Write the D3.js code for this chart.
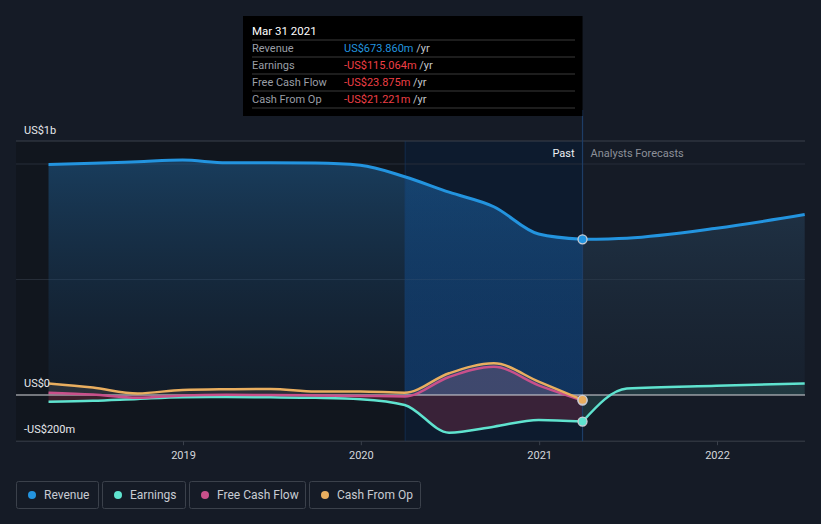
<!DOCTYPE html>
<html><head><meta charset="utf-8">
<script src="https://cdn.jsdelivr.net/npm/d3@7"></script>
<style>
html,body{margin:0;padding:0;background:#151b26;}
svg{display:block;font-family:Roboto,"Noto Sans",sans-serif;}
</style></head><body>
<svg id="c" width="821" height="524"></svg>
<script>
const pastDates = ["2018-03-31","2018-06-30","2018-09-30","2018-12-31","2019-03-31","2019-06-30","2019-09-30","2019-12-31","2020-03-31","2020-06-30","2020-09-30","2020-12-31","2021-03-31"];
const revenuePast = [998,1003,1010,1017,1005,1005,1004,995,945,878,815,697,673.86];
const earningsPast = [-29,-25,-17,-10,-9,-10,-12,-18,-43,-163,-137,-108,-115.064];
const fcfPast = [10,2,-12,-2,1,0,-2,-4,-6,78,122,42,-23.875];
const cfoPast = [50,32,7,22,25,26,15,15,10,94,137,58,-21.221];
const revForecastDates = ["2021-03-31","2021-06-30","2021-12-31","2022-06-30"];
const revenueForecast = [673.86,679,722,781];
const earnForecastDates = ["2021-03-31","2021-06-30","2021-12-31","2022-06-30"];
const earningsForecast = [-115.064,28,40,50];
const yTicks = [{v:1000,label:"US$1b"},{v:0,label:"US$0"},{v:-200,label:"-US$200m"}];
const yearTicks = ["2019-01-01","2020-01-01","2021-01-01","2022-01-01"];
const seriesNames = ["Revenue","Earnings","Free Cash Flow","Cash From Op"];
const seriesColors = ["#2394df","#5fe3cf","#c9508b","#e9ae5f"];
const tooltipTitle = "Mar 31 2021";
const tooltipValues = ["US$673.860m","-US$115.064m","-US$23.875m","-US$21.221m"];

const P = d3.timeParse("%Y-%m-%d");
const svg = d3.select("#c");
const x = d3.scaleTime().domain([P("2019-01-01"),P("2022-01-01")]).range([183,717]);
const y = d3.scaleLinear().domain([0,1000]).range([395,164]);
const plotL=16, plotR=805, plotT=141, plotB=y(-200);
const nowX = x(P("2021-03-31")), bandX = x(P("2020-03-31"));

const defs = svg.append("defs");
function grad(id, stops){
  const g = defs.append("linearGradient").attr("id",id).attr("x1",0).attr("x2",0).attr("y1",0).attr("y2",1);
  stops.forEach(s=>g.append("stop").attr("offset",s[0]).attr("stop-color",s[1]).attr("stop-opacity",s[2]));
}
grad("revPast",[[0,"#1f5c8f",0.55],[1,"#1a3a5c",0.15]]);
grad("revFc",[[0,"#2a4a66",0.45],[1,"#203347",0.2]]);
grad("revBand",[[0,"#135aa5",0.22],[1,"#1460b8",0.32]]);
defs.append("clipPath").attr("id","bandClip").append("rect").attr("x",bandX).attr("y",plotT).attr("width",nowX-bandX).attr("height",plotB-plotT);

// plot background
svg.append("rect").attr("x",plotL).attr("y",plotT).attr("width",bandX-plotL).attr("height",plotB-plotT).attr("fill","#11161e");
// past band
svg.append("rect").attr("x",bandX).attr("y",plotT).attr("width",nowX-bandX).attr("height",plotB-plotT).attr("fill","#0d1b2e");

// gridlines
[1000,500].forEach(v=>svg.append("line").attr("x1",plotL).attr("x2",plotR).attr("y1",y(v)).attr("y2",y(v)).attr("stroke","#262d38").attr("stroke-width",1));
svg.append("line").attr("x1",plotL).attr("x2",plotR).attr("y1",plotT).attr("y2",plotT).attr("stroke","#3a404b");
svg.append("line").attr("x1",plotL).attr("x2",plotR).attr("y1",plotB).attr("y2",plotB).attr("stroke","#3a404b");

const past = pastDates.map((d,i)=>({d:P(d),rev:revenuePast[i],earn:earningsPast[i],fcf:fcfPast[i],cfo:cfoPast[i]}));
const revF = revForecastDates.map((d,i)=>({d:P(d),v:revenueForecast[i]}));
const earnF = earnForecastDates.map((d,i)=>({d:P(d),v:earningsForecast[i]}));
const curve = d3.curveMonotoneX;

function area(data,key){return d3.area().x(d=>x(d.d)).y0(y(0)).y1(d=>y(d[key])).curve(curve)(data);}
function line(data,key){return d3.line().x(d=>x(d.d)).y(d=>y(d[key])).curve(curve)(data);}

svg.append("path").attr("d",area(past,"rev")).attr("fill","url(#revPast)");
svg.append("path").attr("d",area(past,"rev")).attr("fill","url(#revBand)").attr("clip-path","url(#bandClip)");
svg.append("path").attr("d",area(revF,"v")).attr("fill","url(#revFc)");
svg.append("path").attr("d",area(past,"earn")).attr("fill","#a03450").attr("fill-opacity",0.3);
svg.append("path").attr("d",area(earnF,"v")).attr("fill","#5fe3cf").attr("fill-opacity",0.12);
svg.append("path").attr("d",area(past,"fcf")).attr("fill","#c9508b").attr("fill-opacity",0.15);
svg.append("path").attr("d",area(past,"cfo")).attr("fill","#b9a9a0").attr("fill-opacity",0.14);

svg.append("line").attr("x1",bandX+0.5).attr("x2",bandX+0.5).attr("y1",plotT).attr("y2",plotB).attr("stroke","#1a3a66").attr("stroke-opacity",0.5);
svg.append("line").attr("x1",nowX).attr("x2",nowX).attr("y1",110).attr("y2",plotB).attr("stroke","#1d3d66").attr("stroke-width",1.2);

// zero line
svg.append("line").attr("x1",plotL).attr("x2",plotR).attr("y1",y(0)).attr("y2",y(0)).attr("stroke","#d8d8dc").attr("stroke-width",1.2);

// lines
svg.append("path").attr("d",line(past,"earn")).attr("fill","none").attr("stroke",seriesColors[1]).attr("stroke-width",2.5);
svg.append("path").attr("d",line(earnF,"v")).attr("fill","none").attr("stroke",seriesColors[1]).attr("stroke-width",2.5);
svg.append("path").attr("d",line(past,"fcf")).attr("fill","none").attr("stroke",seriesColors[2]).attr("stroke-width",2.5);
svg.append("path").attr("d",line(past,"cfo")).attr("fill","none").attr("stroke",seriesColors[3]).attr("stroke-width",2.5);
svg.append("path").attr("d",line(past,"rev")).attr("fill","none").attr("stroke",seriesColors[0]).attr("stroke-width",3);
svg.append("path").attr("d",line(revF,"v")).attr("fill","none").attr("stroke",seriesColors[0]).attr("stroke-width",3);

// markers
const last = past[past.length-1];
[["rev",0],["earn",1],["fcf",2],["cfo",3]].forEach(([k,i])=>{
  svg.append("circle").attr("cx",x(last.d)).attr("cy",y(last[k])).attr("r",4.5).attr("fill",seriesColors[i]).attr("stroke","#c8ccd4").attr("stroke-width",1.3);
});

// y labels
yTicks.forEach(t=>{
  const yy = t.v===1000 ? plotT-7 : y(t.v)-8;
  svg.append("text").attr("x",24).attr("y",yy).attr("fill","#e6e8ec").attr("font-size",11).text(t.label);
});
// x labels
const xa = svg.append("g").attr("transform",`translate(0,${plotB})`).call(d3.axisBottom(x).tickValues(yearTicks.map(P)).tickFormat(d3.timeFormat("%Y")).tickSize(4).tickSizeOuter(0));
xa.select(".domain").remove();
xa.selectAll("line").attr("stroke","#3a404b");
xa.selectAll("text").attr("fill","#d4d7dc").attr("font-size",11).attr("font-family","Roboto,sans-serif").attr("dy","0.95em");

// Past / Forecast labels
svg.append("text").attr("x",nowX-8).attr("y",157).attr("text-anchor","end").attr("fill","#eef0f3").attr("font-size",11).text("Past");
svg.append("text").attr("x",nowX+8).attr("y",157).attr("fill","#8c9099").attr("font-size",11).text("Analysts Forecasts");

// tooltip
const tt = svg.append("g");
tt.append("rect").attr("x",243).attr("y",16).attr("width",nowX-243).attr("height",100).attr("fill","#000");
tt.append("text").attr("x",252).attr("y",35).attr("fill","#fff").attr("font-size",11.5).text(tooltipTitle);
[40,57,74,91,108].forEach(yy=>tt.append("line").attr("x1",252).attr("x2",575).attr("y1",yy).attr("y2",yy).attr("stroke","#3a3a3a"));
seriesNames.forEach((n,i)=>{
  const yy = 52+i*17;
  tt.append("text").attr("x",252).attr("y",yy).attr("fill","#9a9ea6").attr("font-size",11).text(n);
  const t = tt.append("text").attr("x",344).attr("y",yy).attr("font-size",11);
  t.append("tspan").attr("fill",i===0?"#2394df":"#ee3f45").text(tooltipValues[i]);
  t.append("tspan").attr("fill","#c4c7cc").text(" /yr");
});

// legend
const legendW = [82,83,116,111];
let lx = 16;
seriesNames.forEach((n,i)=>{
  const g = svg.append("g");
  g.append("rect").attr("x",lx+0.5).attr("y",481.5).attr("width",legendW[i]).attr("height",27).attr("rx",2).attr("fill","none").attr("stroke","#3b414b");
  g.append("circle").attr("cx",lx+16).attr("cy",495).attr("r",4).attr("fill",seriesColors[i]);
  g.append("text").attr("x",lx+28).attr("y",499).attr("fill","#c8ccd3").attr("font-size",12).text(n);
  lx += legendW[i]+4;
});
</script></body></html>
